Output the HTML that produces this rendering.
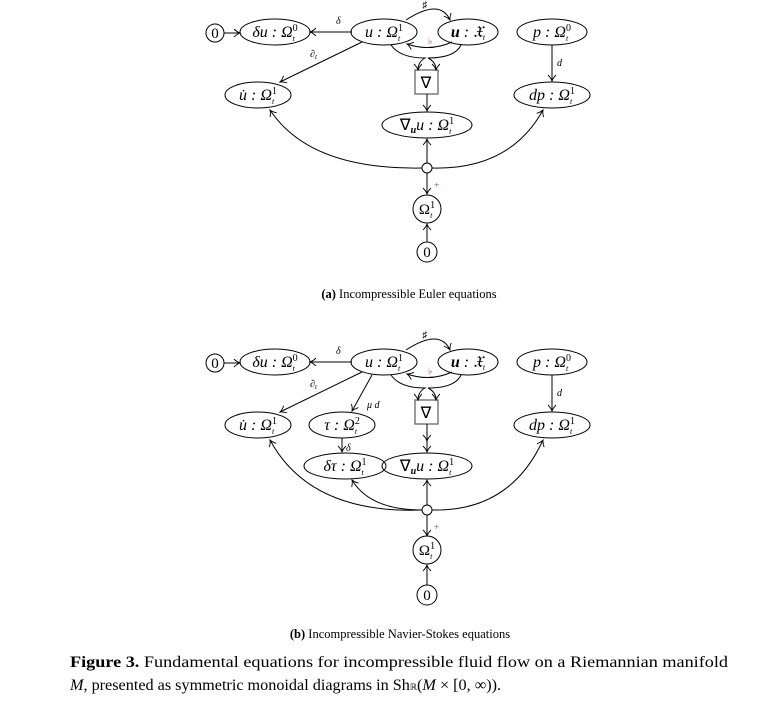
<!DOCTYPE html>
<html><head><meta charset="utf-8"><style>
html,body{margin:0;padding:0;background:#fff;}
svg{display:block;}
text{font-family:"Liberation Serif",serif;}
.m{font-style:italic;font-size:16px;}
.l{font-size:10px;font-style:italic;}
</style></head><body>
<svg width="771" height="702" viewBox="0 0 771 702" xmlns="http://www.w3.org/2000/svg">
<defs>
<marker id="a" markerWidth="10" markerHeight="10" refX="7" refY="4" orient="auto" markerUnits="userSpaceOnUse">
<path d="M1,0 Q4,3 7,4 Q4,5 1,8" fill="none" stroke="#000" stroke-width="0.9"/>
</marker>
<g id="top" stroke="#000" stroke-width="1" fill="none">
<circle cx="215" cy="33" r="9" fill="#fff"/>
<ellipse cx="275" cy="32" rx="35" ry="13"/>
<ellipse cx="384" cy="32" rx="33" ry="13"/>
<ellipse cx="468" cy="32" rx="30" ry="13"/>
<ellipse cx="552" cy="32" rx="35" ry="13"/>
<ellipse cx="258" cy="95" rx="33" ry="13"/>
<ellipse cx="552" cy="95" rx="38" ry="13"/>
<rect x="415" y="70" width="23" height="24" stroke="#666" stroke-width="1.3"/>
<line x1="224" y1="33" x2="240" y2="33" marker-end="url(#a)"/>
<line x1="352" y1="32" x2="310" y2="32" marker-end="url(#a)"/>
<path d="M406,20 Q440,-2 450,20" marker-end="url(#a)"/>
<path d="M452,42 Q430,52 407,44" marker-end="url(#a)"/>
<path d="M391,45 Q400,58 425,58 Q418,62 418,70" marker-end="url(#a)"/>
<path d="M461,45 Q455,58 428,58 Q436,62 436,70" marker-end="url(#a)"/>
<line x1="362" y1="42" x2="280" y2="82" marker-end="url(#a)"/>
<line x1="552" y1="45" x2="552" y2="81" marker-end="url(#a)"/>
<line x1="427" y1="94" x2="427" y2="111" marker-end="url(#a)"/>
</g>
</defs>

<!-- (a) -->
<use href="#top"/>
<g stroke="#000" stroke-width="1" fill="none">
<ellipse cx="427" cy="125" rx="45" ry="13"/>
<line x1="427" y1="163" x2="427" y2="139" marker-end="url(#a)"/>
<path d="M422,168 Q310,170 270,110" marker-end="url(#a)"/>
<path d="M432,168 Q510,170 543,110" marker-end="url(#a)"/>
<circle cx="427" cy="168" r="5" fill="#fff"/>
<line x1="427" y1="173" x2="427" y2="194" marker-end="url(#a)"/>
<circle cx="427" cy="209" r="14" fill="#fff"/>
<line x1="427" y1="242" x2="427" y2="224" marker-end="url(#a)"/>
<circle cx="427" cy="252" r="10" fill="#fff"/>
</g>
<g id="lab">
<text x="215" y="38" font-size="15" text-anchor="middle">0</text>
<text x="275" y="37" class="m" text-anchor="middle">δu : Ω<tspan font-size="10" dy="-6" font-style="normal">0</tspan><tspan font-size="8" dx="-5" dy="10">t</tspan></text>
<text x="384" y="37" class="m" text-anchor="middle">u : Ω<tspan font-size="10" dy="-6" font-style="normal">1</tspan><tspan font-size="8" dx="-5" dy="10">t</tspan></text>
<text x="468" y="37" class="m" text-anchor="middle" font-weight="bold">u<tspan font-weight="normal"> : 𝔛</tspan><tspan font-size="8" dy="3" font-weight="normal">t</tspan></text>
<text x="552" y="37" class="m" text-anchor="middle">p : Ω<tspan font-size="10" dy="-6" font-style="normal">0</tspan><tspan font-size="8" dx="-5" dy="10">t</tspan></text>
<text x="258" y="100" class="m" text-anchor="middle">u̇ : Ω<tspan font-size="10" dy="-6" font-style="normal">1</tspan><tspan font-size="8" dx="-5" dy="10">t</tspan></text>
<text x="552" y="100" class="m" text-anchor="middle">dp : Ω<tspan font-size="10" dy="-6" font-style="normal">1</tspan><tspan font-size="8" dx="-5" dy="10">t</tspan></text>
<text x="426" y="88" font-size="16" text-anchor="middle">∇</text>
<text x="336" y="24" class="l">δ</text>
<text x="310" y="57" class="l">∂<tspan font-size="7" dy="2">t</tspan></text>
<text x="425" y="8" font-size="10" text-anchor="middle">♯</text>
<text x="428" y="44" font-size="9" fill="#a33">♭</text>
<text x="557" y="66" class="l">d</text>
</g>
<text x="427" y="130" class="m" text-anchor="middle"><tspan font-style="normal">∇</tspan><tspan font-size="10" font-weight="bold" dy="3">u</tspan><tspan dy="-3">u : Ω</tspan><tspan font-size="10" dy="-6" font-style="normal">1</tspan><tspan font-size="8" dx="-5" dy="10">t</tspan></text>
<text x="434" y="188" font-size="9" fill="#a33">+</text>
<text x="427" y="214" font-size="15" text-anchor="middle">Ω<tspan font-size="10" dy="-6">1</tspan><tspan font-size="8" dx="-5" dy="10" font-style="italic">t</tspan></text>
<text x="427" y="257" font-size="15" text-anchor="middle">0</text>
<text x="409" y="298" font-size="12.5" text-anchor="middle"><tspan font-weight="bold">(a)</tspan> Incompressible Euler equations</text>

<!-- (b) -->
<g transform="translate(0,330)">
<use href="#top"/>
<use href="#lab"/>
<g stroke="#000" stroke-width="1" fill="none">
<ellipse cx="342" cy="95" rx="33" ry="13"/>
<ellipse cx="345" cy="136" rx="41" ry="13"/>
<ellipse cx="427" cy="136" rx="45" ry="13"/>
<line x1="372" y1="45" x2="352" y2="81" marker-end="url(#a)"/>
<line x1="342" y1="108" x2="342" y2="122" marker-end="url(#a)"/>
<line x1="427" y1="94" x2="427" y2="122" marker-end="url(#a)"/>
<line x1="427" y1="175" x2="427" y2="150" marker-end="url(#a)"/>
<path d="M422,180 Q310,184 270,110" marker-end="url(#a)"/>
<path d="M422,180 Q370,180 352,150" marker-end="url(#a)"/>
<path d="M432,180 Q510,182 543,110" marker-end="url(#a)"/>
<circle cx="427" cy="180" r="5" fill="#fff"/>
<line x1="427" y1="185" x2="427" y2="206" marker-end="url(#a)"/>
<circle cx="427" cy="220" r="14" fill="#fff"/>
<line x1="427" y1="256" x2="427" y2="235" marker-end="url(#a)"/>
<circle cx="427" cy="265" r="10" fill="#fff"/>
</g>
<text x="342" y="100" class="m" text-anchor="middle">τ : Ω<tspan font-size="10" dy="-6" font-style="normal">2</tspan><tspan font-size="8" dx="-5" dy="10">t</tspan></text>
<text x="345" y="141" class="m" text-anchor="middle">δτ : Ω<tspan font-size="10" dy="-6" font-style="normal">1</tspan><tspan font-size="8" dx="-5" dy="10">t</tspan></text>
<text x="427" y="141" class="m" text-anchor="middle"><tspan font-style="normal">∇</tspan><tspan font-size="10" font-weight="bold" dy="3">u</tspan><tspan dy="-3">u : Ω</tspan><tspan font-size="10" dy="-6" font-style="normal">1</tspan><tspan font-size="8" dx="-5" dy="10">t</tspan></text>
<text x="367" y="78" class="l">μ d</text>
<text x="346" y="121" class="l">δ</text>
<text x="434" y="200" font-size="9" fill="#a33">+</text>
<text x="427" y="225" font-size="15" text-anchor="middle">Ω<tspan font-size="10" dy="-6">1</tspan><tspan font-size="8" dx="-5" dy="10" font-style="italic">t</tspan></text>
<text x="427" y="270" font-size="15" text-anchor="middle">0</text>
</g>
<text x="400" y="638" font-size="12.5" text-anchor="middle"><tspan font-weight="bold">(b)</tspan> Incompressible Navier-Stokes equations</text>
<text x="70" y="667" font-size="16.2" textLength="658" lengthAdjust="spacingAndGlyphs"><tspan font-weight="bold">Figure 3.</tspan> Fundamental equations for incompressible fluid flow on a Riemannian manifold</text>
<text x="70" y="690" font-size="16.2"><tspan font-style="italic">M</tspan>, presented as symmetric monoidal diagrams in Sh<tspan font-size="9">ℝ</tspan>(<tspan font-style="italic">M</tspan> × [0, ∞)).</text>
</svg>
</body></html>
